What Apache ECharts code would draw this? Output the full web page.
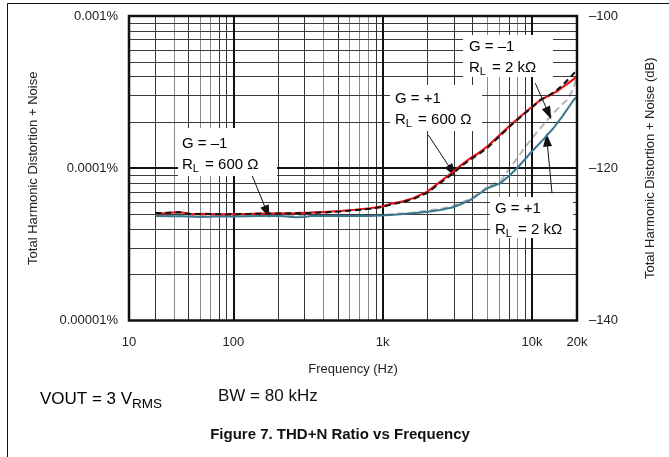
<!DOCTYPE html>
<html><head><meta charset="utf-8">
<script src="https://cdn.jsdelivr.net/npm/echarts@6/dist/echarts.min.js"></script>
<style>html,body{margin:0;padding:0;background:#fff}#c{width:669px;height:457px}</style>
</head><body><div id="c"></div>
<script>
// ---- tick labels ----
const xTickValues = [20, 100, 1000, 10000, 20000];
const xTickLabels = ['10', '100', '1k', '10k', '20k'];
const yTickValues = [0.00001, 0.0001, 0.001];
const yTickLabels = ['0.00001%', '0.0001%', '0.001%'];
const dbTickLabels = ['–140', '–120', '–100'];

// ---- grid lines ----
const xGridDark = [30, 50, 80, 90, 200, 300, 500, 900, 2000, 3000, 4000, 7000, 9000];
const xGridLight = [40, 60, 70, 400, 600, 700, 800, 5000, 6000, 8000];
const xGridMajor = [100, 1000, 10000];
const yGridMinor = [0.00002, 0.00003, 0.00004, 0.00005, 0.00006, 0.00007, 0.00008, 0.00009,
                    0.0002, 0.0003, 0.0004, 0.0005, 0.0006, 0.0007, 0.0008, 0.0009];
const yGridMajor = [0.0001];

// ---- series data: frequency (Hz) / THD+N (%) ----
const freqG1R600 = [30, 36, 43, 53, 65, 80, 100, 130, 160, 206, 260, 327, 420, 520, 650, 826, 1000, 1124, 1350, 1600, 1990, 2430, 2980, 3400, 3860, 4400, 5010, 5700, 6420, 7300, 8340, 9730, 11350, 13250, 14700, 16180, 18000, 20000];
const thdG1R600  = [5.06e-5, 5.08e-5, 5.16e-5, 4.99e-5, 5.01e-5, 4.98e-5, 5.0e-5, 5.02e-5, 5.04e-5, 5.06e-5, 5.08e-5, 5.11e-5, 5.17e-5, 5.24e-5, 5.34e-5, 5.46e-5, 5.62e-5, 5.83e-5, 6.05e-5, 6.35e-5, 7.02e-5, 8.17e-5, 9.5e-5, 1.06e-4, 1.163e-4, 1.26e-4, 1.386e-4, 1.56e-4, 1.739e-4, 1.95e-4, 2.182e-4, 2.477e-4, 2.808e-4, 3.03e-4, 3.2e-4, 3.435e-4, 3.7e-4, 3.994e-4];

const freqGm1R600 = [30, 36, 43, 53, 65, 80, 100, 130, 160, 206, 260, 327, 420, 520, 650, 826, 1000, 1124, 1350, 1600, 1990, 2430, 2980, 3400, 3860, 4400, 5010, 5700, 6420, 7300, 8340, 9730, 11350, 13250, 14700, 16180, 18000, 20000];
const thdGm1R600  = [5.08e-5, 5.1e-5, 5.14e-5, 5.0e-5, 5.0e-5, 5.0e-5, 4.99e-5, 5.02e-5, 5.05e-5, 5.04e-5, 5.06e-5, 5.08e-5, 5.13e-5, 5.2e-5, 5.3e-5, 5.42e-5, 5.57e-5, 5.76e-5, 5.98e-5, 6.27e-5, 6.9e-5, 8.0e-5, 9.3e-5, 1.04e-4, 1.14e-4, 1.24e-4, 1.36e-4, 1.53e-4, 1.71e-4, 1.93e-4, 2.16e-4, 2.46e-4, 2.8e-4, 3.05e-4, 3.26e-4, 3.55e-4, 3.95e-4, 4.42e-4];

const freqGm1R2k = [30, 45, 60, 80, 100, 150, 206, 260, 330, 520, 826, 1124, 1600, 2000, 2430, 2970, 3860, 4500, 5010, 6130, 7000, 7960, 9000, 10190, 12000, 13880, 16180, 17220, 18800, 20000];
const thdGm1R2k  = [4.92e-5, 4.9e-5, 4.86e-5, 4.9e-5, 4.9e-5, 4.93e-5, 4.93e-5, 4.88e-5, 4.92e-5, 4.92e-5, 4.92e-5, 4.98e-5, 5.12e-5, 5.28e-5, 5.42e-5, 5.65e-5, 6.3e-5, 6.9e-5, 7.6e-5, 8.17e-5, 9.8e-5, 1.163e-4, 1.38e-4, 1.612e-4, 1.95e-4, 2.297e-4, 2.672e-4, 2.808e-4, 3.3e-4, 3.994e-4];

const freqG1R2k = [30, 38, 45, 60, 70, 80, 100, 150, 206, 260, 300, 330, 520, 826, 1124, 1600, 2000, 2430, 2970, 3400, 3860, 4400, 5010, 6130, 7000, 7930, 9000, 10190, 12000, 13880, 16000, 18980, 20000];
const thdG1R2k  = [4.86e-5, 4.84e-5, 4.84e-5, 4.78e-5, 4.8e-5, 4.84e-5, 4.82e-5, 4.86e-5, 4.86e-5, 4.77e-5, 4.78e-5, 4.86e-5, 4.86e-5, 4.86e-5, 4.93e-5, 5.06e-5, 5.18e-5, 5.32e-5, 5.55e-5, 5.85e-5, 6.19e-5, 6.75e-5, 7.39e-5, 7.97e-5, 8.9e-5, 1.0e-4, 1.15e-4, 1.319e-4, 1.56e-4, 1.831e-4, 2.2e-4, 2.808e-4, 2.952e-4];

// ---- annotation arrows (start freq, start %, end freq, end %) ----
const arrowGm1R600 = [133, 9.04e-5, 168, 5.16e-5];
const arrowG1R600  = [2020, 1.654e-4, 2911, 9.6e-5];
const arrowGm1R2k  = [10518, 3.614e-4, 12912, 2.297e-4];
const arrowG1R2k   = [13600, 6.85e-5, 12590, 1.533e-4];

const X_MIN = 20, X_MAX = 20000, Y_MIN = 0.00001, Y_MAX = 0.001;

function zip(a, b) { return a.map((v, i) => [v, b[i]]); }
function nearestLabel(v, vals, labs, log) {
  let best = 0, bd = Infinity;
  vals.forEach((t, i) => { const d = Math.abs(log ? Math.log10(v) - Math.log10(t) : v - t); if (d < bd) { bd = d; best = i; } });
  return labs[best];
}
const FONT = '"Liberation Sans", Arial, sans-serif';

function vLine(v, color, width) {
  return [{ coord: [v, Y_MIN], lineStyle: { color: color, width: width, type: 'solid' } }, { coord: [v, Y_MAX] }];
}
function hLine(v, color, width) {
  return [{ coord: [X_MIN, v], lineStyle: { color: color, width: width, type: 'solid' } }, { coord: [X_MAX, v] }];
}
const gridLineData = []
  .concat(xGridLight.map(v => vLine(v, '#8a8a8a', 1)))
  .concat(xGridDark.map(v => vLine(v, '#333', 1)))
  .concat(yGridMinor.map(v => hLine(v, '#3a3a3a', 1)))
  .concat(xGridMajor.map(v => vLine(v, '#111', 2)))
  .concat(yGridMajor.map(v => hLine(v, '#111', 2)));

function arrow(a) {
  return [{ coord: [a[0], a[1]] }, { coord: [a[2], a[3]] }];
}

const chart = echarts.init(document.getElementById('c'), null, { renderer: 'canvas' });
chart.setOption({
  animation: false,
  backgroundColor: '#fff',
  grid: { left: 129, top: 16, width: 448, height: 304.5, show: true, borderColor: '#111', borderWidth: 2.5, backgroundColor: 'transparent', z: 10 },
  xAxis: {
    type: 'log', logBase: 10, min: X_MIN, max: X_MAX,
    name: 'Frequency (Hz)', nameLocation: 'middle', nameGap: 42,
    nameTextStyle: { color: '#222', fontSize: 13, fontFamily: FONT },
    axisLine: { show: false }, axisTick: { show: false }, splitLine: { show: false },
    axisLabel: { color: '#222', fontSize: 13, fontFamily: FONT, margin: 15, showMinLabel: true, showMaxLabel: true,
      formatter: v => nearestLabel(v, xTickValues, xTickLabels, true) }
  },
  yAxis: [{
    type: 'log', logBase: 10, min: Y_MIN, max: Y_MAX,
    name: 'Total Harmonic Distortion + Noise', nameLocation: 'middle', nameGap: 89, nameRotate: 90,
    nameTextStyle: { color: '#222', fontSize: 13, fontFamily: FONT },
    axisLine: { show: false }, axisTick: { show: false }, splitLine: { show: false },
    axisLabel: { color: '#222', fontSize: 13, fontFamily: FONT, margin: 11, showMinLabel: true, showMaxLabel: true,
      formatter: v => nearestLabel(v, yTickValues, yTickLabels, true) }
  }, {
    type: 'value', min: -140, max: -100, interval: 20, position: 'right',
    name: 'Total Harmonic Distortion + Noise (dB)', nameLocation: 'middle', nameGap: 67, nameRotate: 90,
    nameTextStyle: { color: '#222', fontSize: 13, fontFamily: FONT },
    axisLine: { show: false }, axisTick: { show: false }, splitLine: { show: false },
    axisLabel: { color: '#222', fontSize: 13, fontFamily: FONT, margin: 12,
      formatter: v => nearestLabel(v, [-140, -120, -100], dbTickLabels, false) }
  }],
  series: [
    { type: 'line', name: 'grid', data: [], z: 1, silent: true,
      markLine: { silent: true, symbol: ['none', 'none'], animation: false, label: { show: false }, data: gridLineData } },
    { type: 'line', name: 'G = –1, RL = 2 kΩ', data: zip(freqGm1R2k, thdGm1R2k), z: 4, showSymbol: false, symbol: 'none',
      lineStyle: { color: '#b4b4b4', width: 2, type: [7, 4] } },
    { type: 'line', name: 'G = +1, RL = 2 kΩ', data: zip(freqG1R2k, thdG1R2k), z: 5, showSymbol: false, symbol: 'none',
      lineStyle: { color: '#3b7690', width: 2 } },
    { type: 'line', name: 'G = +1, RL = 600 Ω', data: zip(freqG1R600, thdG1R600), z: 6, showSymbol: false, symbol: 'none',
      lineStyle: { color: '#e8161b', width: 2.2 } },
    { type: 'line', name: 'G = –1, RL = 600 Ω', data: zip(freqGm1R600, thdGm1R600), z: 7, showSymbol: false, symbol: 'none',
      lineStyle: { color: '#111', width: 2, type: [6, 4] } },
    { type: 'line', name: 'arrows', data: [], z: 8, zlevel: 2, silent: true,
      markLine: { silent: true, symbol: ['none', 'triangle'], symbolSize: [9, 13], animation: false, label: { show: false },
        lineStyle: { color: '#111', width: 1, type: 'solid' },
        data: [arrow(arrowGm1R600), arrow(arrowG1R600), arrow(arrowGm1R2k), arrow(arrowG1R2k)] } }
  ]
});

// annotation boxes & footer text
const rich = {
  n: { fontSize: 15, fontFamily: FONT, color: '#222', lineHeight: 21 },
  s: { fontSize: 11, fontFamily: FONT, color: '#222', lineHeight: 21, padding: [8, 2, 0, 0] }
};
function box(bx, by, bw, bh, tx, ty, g, r) {
  return [
    { type: 'rect', zlevel: 1, z: 3, shape: { x: bx, y: by, width: bw, height: bh }, style: { fill: '#fff', stroke: null } },
    { type: 'text', zlevel: 1, x: tx, y: ty, z: 4,
      style: { text: '{n|G = ' + g + '}\n{n|R}{s|L}{n| = ' + r + '}', rich: rich } }
  ];
}
chart.setOption({
  graphic: [].concat(
    box(178, 128, 99, 48, 182, 133, '–1', '600 Ω'),
    box(390, 85, 92, 46, 395, 88, '+1', '600 Ω'),
    box(463, 35, 90, 42, 469, 36, '–1', '2 kΩ'),
    box(490, 197, 83, 41, 495, 198, '+1', '2 kΩ'),
    [
    { type: 'text', x: 40, y: 388, z: 3, style: { text: '{a|VOUT = 3 V}{b|RMS}',
      rich: { a: { fontSize: 17, fontFamily: FONT, color: '#111' }, b: { fontSize: 13.5, fontFamily: FONT, color: '#111', padding: [9, 0, 0, 0] } } } },
    { type: 'text', x: 218, y: 388, z: 3, style: { text: 'BW = 80 kHz', fontSize: 17, fontFamily: FONT, fill: '#111' } },
    { type: 'text', x: 340, y: 427, z: 3, style: { text: 'Figure 7. THD+N Ratio vs Frequency', fontSize: 15, fontWeight: 'bold', fontFamily: FONT, fill: '#111', align: 'center' } },
    { type: 'line', z: 3, shape: { x1: 7.5, y1: 3.5, x2: 669, y2: 3.5 }, style: { stroke: '#111', lineWidth: 1 } },
    { type: 'line', z: 3, shape: { x1: 7.5, y1: 3.5, x2: 7.5, y2: 457 }, style: { stroke: '#111', lineWidth: 1 } }
    ])
});
</script></body></html>
